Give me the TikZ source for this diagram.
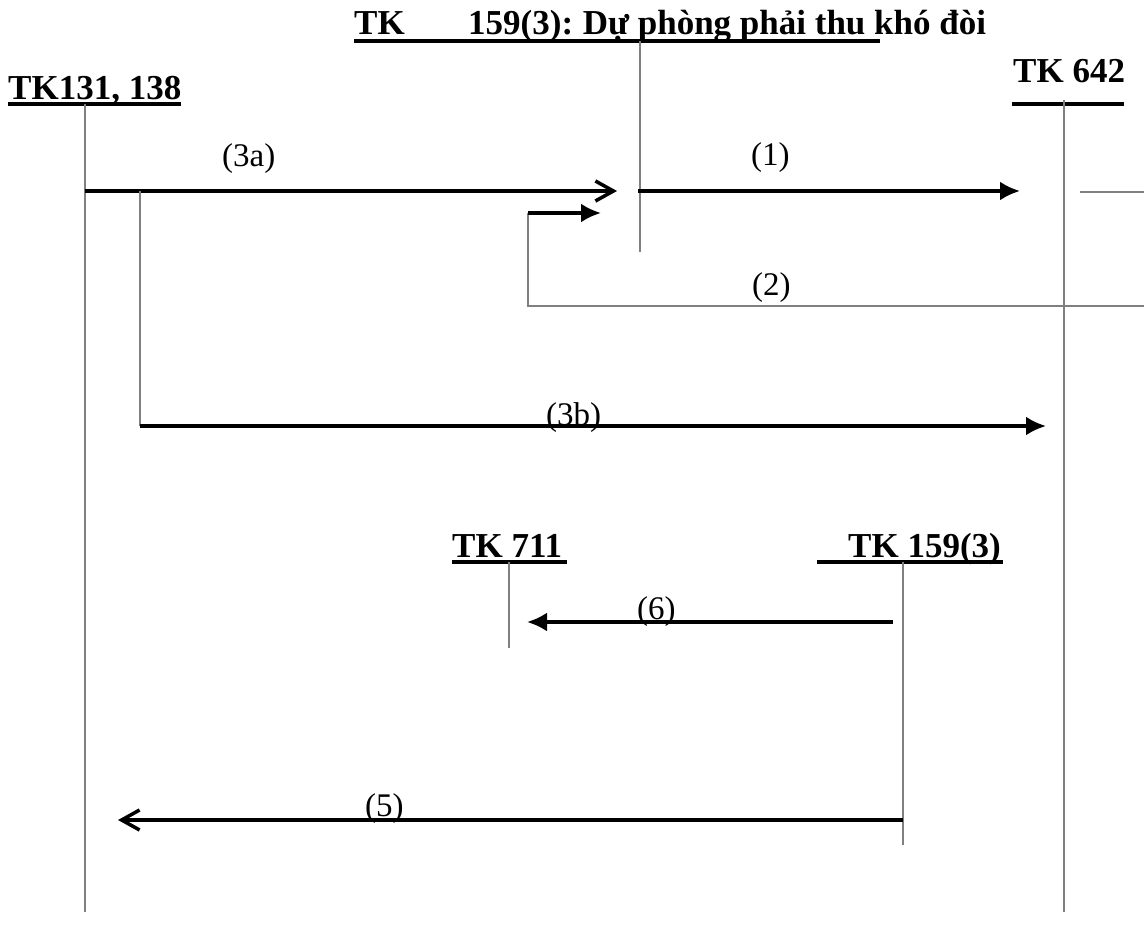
\documentclass[tikz,border=0pt]{standalone}
\usepackage{fontspec}
\setmainfont{Liberation Serif}
\usetikzlibrary{arrows.meta}
\begin{document}
\begin{tikzpicture}[x=1pt,y=-1pt,
 acct/.style={font=\fontsize{35}{40}\selectfont\bfseries, inner sep=0pt, anchor=base west},
 lbl/.style={font=\fontsize{33}{38}\selectfont, inner sep=0pt, anchor=base west},
 tline/.style={line width=1.5pt, draw=black!50},
 uline/.style={line width=4pt},
 flow/.style={line width=3.5pt},
 filltip/.style={-{Latex[length=20pt,width=19pt]}},
 opentip/.style={-{Straight Barb[length=18pt,width=20pt,line width=3.5pt]}}
]
\useasboundingbox (0,0) rectangle (1144,941);
% account headers
\node[acct] (t1a) at (354,35) {TK};
\node[acct] (t1b) at (468,35) {159(3):\hspace{-2pt} Dự phòng phải thu khó đòi};
\draw[uline] (354,41) -- (880,41);
\node[acct] (t131) at (8,100) {TK131, 138};
\draw[uline] (8,104) -- (181,104);
\node[acct] (t642) at (1013,83) {TK 642};
\draw[uline] (1012,104) -- (1124,104);
\node[acct] (t711) at (452,557) {TK 711};
\draw[uline] (452,562) -- (567,562);
\node[acct] (t159) at (848,557) {TK 159(3)};
\draw[uline] (817,562) -- (1003,562);
% coordinates
\coordinate (a131top) at (85,104);
\coordinate (a131bot) at (85,912);
\coordinate (a642top) at (1064,100);
\coordinate (a642bot) at (1064,912);
\coordinate (a159top) at (640,41);
\coordinate (a159bot) at (640,252);
\coordinate (a711top) at (509,562);
\coordinate (a711bot) at (509,648);
\coordinate (b159top) at (903,562);
\coordinate (b159bot) at (903,845);
\coordinate (s3a) at (85,191);
\coordinate (e3a) at (617,191);
\coordinate (s1) at (638,191);
\coordinate (e1) at (1020,191);
\coordinate (r1a) at (1080,192);
\coordinate (r1b) at (1144,192);
\coordinate (s2) at (1144,306);
\coordinate (c2a) at (528,306);
\coordinate (c2b) at (528,213);
\coordinate (e2) at (601,213);
\coordinate (c3b) at (140,191);
\coordinate (s3b) at (140,426);
\coordinate (e3b) at (1046,426);
\coordinate (s6) at (893,622);
\coordinate (e6) at (527,622);
\coordinate (s5) at (903,820);
\coordinate (e5) at (118,820);
% T-account lines
\draw[tline] (a131top) -- (a131bot);
\draw[tline] (a642top) -- (a642bot);
\draw[tline] (a159top) -- (a159bot);
\draw[tline] (a711top) -- (a711bot);
\draw[tline] (b159top) -- (b159bot);
% flows
\draw[flow,opentip] (s3a) -- (e3a);
\draw[flow,filltip] (s1) -- (e1);
\draw[tline] (r1a) -- (r1b);
\draw[tline] (s2) -- (c2a) -- (c2b);
\draw[flow,filltip] (c2b) -- (e2);
\draw[tline] (c3b) -- (s3b);
\draw[flow,filltip] (s3b) -- (e3b);
\draw[flow,filltip] (s6) -- (e6);
\draw[flow,opentip] (s5) -- (e5);
% labels
\node[lbl] (l3a) at (222,167) {(3a)};
\node[lbl] (l1) at (751,166) {(1)};
\node[lbl] (l2) at (752,296) {(2)};
\node[lbl] (l3b) at (546,425) {(3b)};
\node[lbl] (l6) at (637,619) {(6)};
\node[lbl] (l5) at (365,816) {(5)};
\end{tikzpicture}
\end{document}
